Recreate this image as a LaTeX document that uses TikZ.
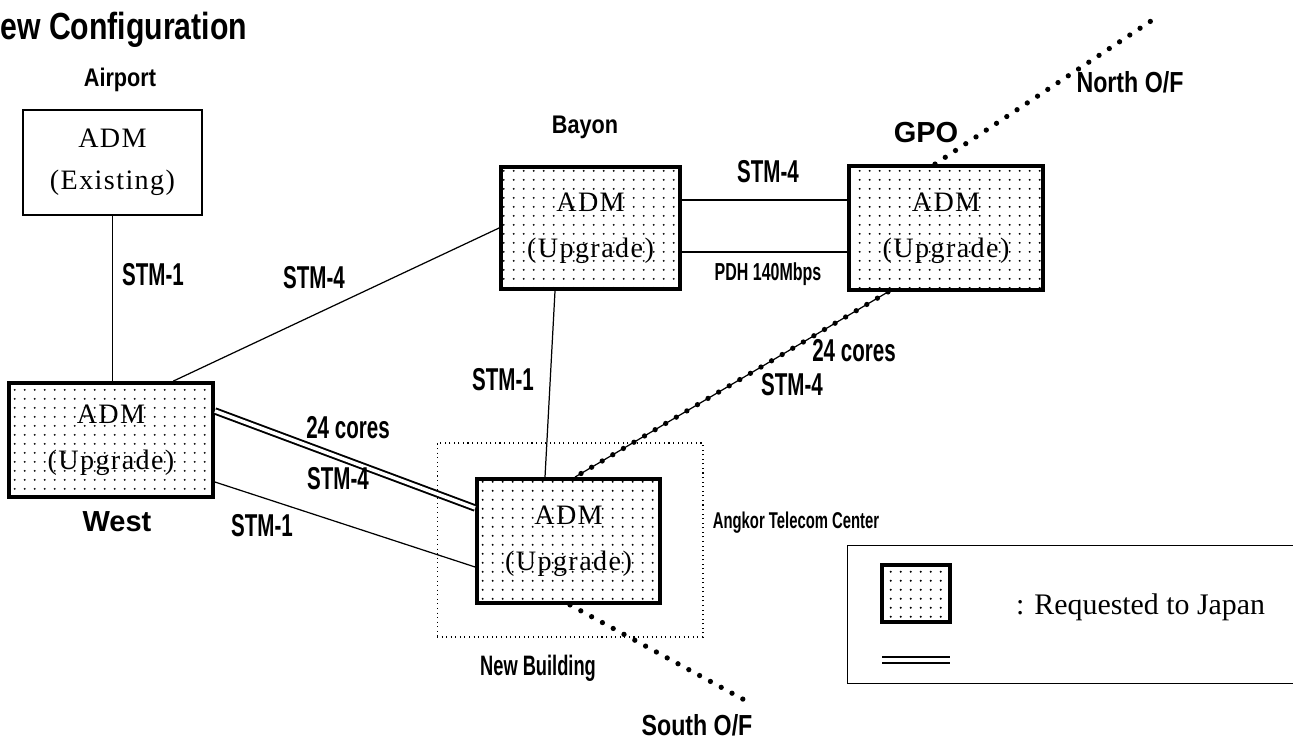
\documentclass[tikz,border=0pt]{standalone}
\usepackage{fontspec}
\setmainfont{Liberation Serif}
\newfontfamily\condsf[FakeStretch=0.65]{Liberation Sans}
\newfontfamily\midsf[FakeStretch=0.85]{Liberation Sans}
\newfontfamily\nrwsf[FakeStretch=0.8]{Liberation Sans}
\newfontfamily\plainsf{Liberation Sans}
\newfontfamily\admfont[LetterSpace=5]{Liberation Serif}
\usetikzlibrary{positioning,calc,patterns}
\pgfdeclarepatternformonly{admdots}{\pgfpointorigin}{\pgfpoint{5.8pt}{5.2pt}}{\pgfpoint{5.8pt}{5.2pt}}{%
  \pgfpathcircle{\pgfpoint{2.9pt}{2.6pt}}{0.65pt}\pgfusepath{fill}}

\begin{document}
\begin{tikzpicture}[x=0.02cm, y=-0.02cm,
    adm/.style={draw, line width=2.2pt, pattern=admdots, align=center, inner sep=0pt,
      font=\admfont\fontsize{16}{26}\selectfont},
    oldbox/.style={draw, line width=0.6pt, align=center, inner sep=0pt,
      font=\admfont\fontsize{16}{24}\selectfont},
    stm/.style={font=\condsf\bfseries\fontsize{18}{20}\selectfont},
    site/.style={font=\midsf\bfseries\fontsize{14.5}{16}\selectfont},
    hub/.style={font=\plainsf\bfseries\fontsize{16.5}{18}\selectfont},
    ofc/.style={font=\nrwsf\bfseries\fontsize{16.5}{18}\selectfont},
    link/.style={line width=0.7pt},
    dbl/.style={double distance=2pt, line width=1.1pt},
    fiber/.style={line width=3pt, dash pattern=on 0pt off 7pt, line cap=round}]
  \useasboundingbox (0,0) rectangle (1293,739);
  \clip (0,0) rectangle (1293,739);

  % title
  \node[anchor=west, inner sep=0pt, font=\nrwsf\bfseries\fontsize{21.5}{24}\selectfont] (title) at (0,30) {ew Configuration};

  % building area
  \node[draw, dotted, line width=0.6pt, minimum width=5.32cm, minimum height=3.88cm] (bldg) at (570,540) {};

  % ADM boxes
  \node[oldbox, minimum width=3.58cm, minimum height=2.1cm] (airport) at (112.5,162.5) {ADM\\(Existing)};
  \node[adm, minimum width=3.58cm, minimum height=2.44cm] (bayon) at (590.5,228) {ADM\\(Upgrade)};
  \node[adm, minimum width=3.88cm, minimum height=2.48cm] (gpo) at (946,228) {ADM\\(Upgrade)};
  \node[adm, minimum width=4.08cm, minimum height=2.28cm] (west) at (111,440) {ADM\\(Upgrade)};
  \node[adm, minimum width=3.66cm, minimum height=2.48cm] (atc) at (568.5,541) {ADM\\(Upgrade)};

  % site names
  \node[site] (airportname) at (120,80) {Airport};
  \node[site] (bayonname) at (585,127) {Bayon};
  \node[hub] (gponame) at (926,133) {GPO};
  \node[hub] (westname) at (117,522) {West};
  \node[site, font=\condsf\bfseries\fontsize{13}{15}\selectfont] (atcname) at (796,523) {Angkor Telecom Center};
  \node[site, font=\condsf\bfseries\fontsize{16}{18}\selectfont] (bldgname) at (538,668) {New Building};

  % links
  \draw[link] (airport.south) -- (airport.south |- west.north);
  \draw[link] ($(west.north west)!0.8!(west.north east)$) -- (bayon.west);
  \draw[dbl] ($(west.east)+(0,-29)$) -- ($(atc.west)+(0,-33)$);
  \draw[link] ($(west.east)+(0,42)$) -- ($(atc.west)+(0,26)$);
  \draw[link] ($(bayon.south)+(-35.5,0)$) -- ($(atc.north)+(-23.5,0)$);
  \coordinate (bg1) at ($(bayon.east)+(0,-28)$);
  \coordinate (bg2) at ($(bayon.east)+(0,24)$);
  \draw[link] (bg1) -- (bg1 -| gpo.west);
  \draw[link] (bg2) -- (bg2 -| gpo.west);
  \draw[link] ($(gpo.south)+(-58,0)$) -- ($(atc.north)+(6.5,0)$);
  \draw[fiber] ($(gpo.south)+(-58,0)$) -- ($(atc.north)+(6.5,0)$);

  % optical fibre to outside
  \coordinate (northend) at (1157,17);
  \coordinate (southend) at (750,703);
  \draw[fiber] ($(gpo.north)+(-11,0)$) -- (northend);
  \draw[fiber] ($(atc.south)+(1.5,0)$) -- (southend);
  \node[ofc] (northname) at (1130,82) {North O/F};
  \node[ofc] (southname) at (697,725) {South O/F};

  % link labels
  \node[stm] (l1) at (153,275) {STM-1};
  \node[stm] (l2) at (314,278) {STM-4};
  \node[stm] (l3) at (503,380) {STM-1};
  \node[stm] (l4) at (768,172) {STM-4};
  \node[stm, font=\condsf\bfseries\fontsize{14}{16}\selectfont] (l5) at (768,274) {PDH 140Mbps};
  \node[stm] (l6) at (854,351) {24 cores};
  \node[stm] (l7) at (792,385) {STM-4};
  \node[stm] (l8) at (348,428) {24 cores};
  \node[stm] (l9) at (338,479) {STM-4};
  \node[stm] (l10) at (262,526) {STM-1};

  % legend
  \node[draw, line width=0.8pt, anchor=north west, minimum width=9.3cm, minimum height=2.76cm] (legend) at (847,545) {};
  \node[adm, line width=2pt, minimum width=1.36cm, minimum height=1.14cm] (key) at (916,593.5) {};
  \node[anchor=west, font=\fontsize{17}{20}\selectfont] (keytext) at (1010,607) {: Requested to Japan};
  \coordinate (dblA) at (882,660);
  \coordinate (dblB) at (950,660);
  \draw[dbl] (dblA) -- (dblB);
\end{tikzpicture}
\end{document}
